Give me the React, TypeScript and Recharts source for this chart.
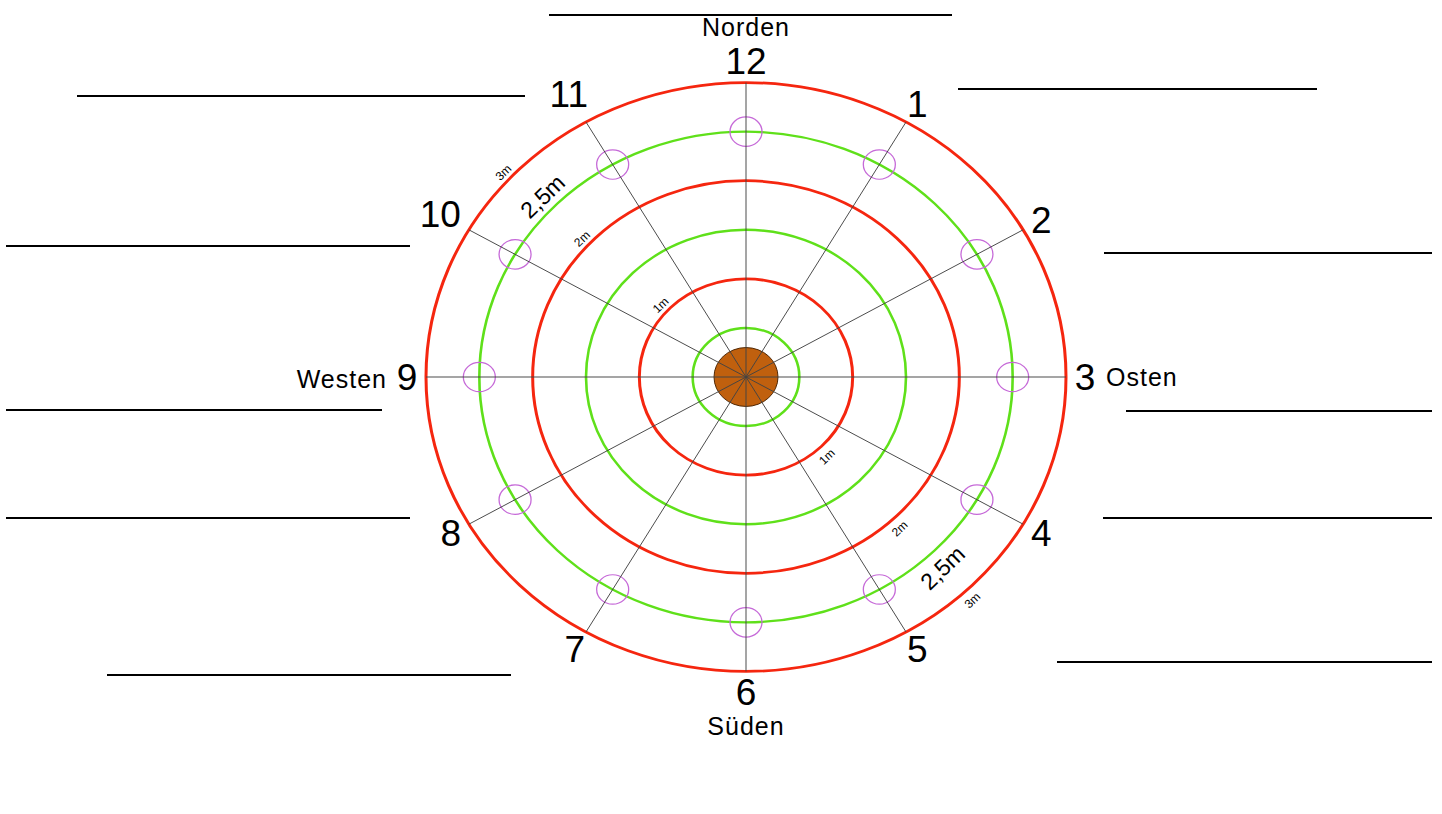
import React from 'react';
import { RadarChart, Radar, PolarGrid, PolarAngleAxis, PolarRadiusAxis } from 'recharts';

// ---------- data ----------
const hourLabels = ['12', '1', '2', '3', '4', '5', '6', '7', '8', '9', '10', '11'];
// distance (m) of the small marker circle on each spoke
const markerDistance = [2.5, 2.5, 2.5, 2.5, 2.5, 2.5, 2.5, 2.5, 2.5, 2.5, 2.5, 2.5];
// radius (m) of the trunk disc in the centre
const trunkRadius = [0.3, 0.3, 0.3, 0.3, 0.3, 0.3, 0.3, 0.3, 0.3, 0.3, 0.3, 0.3];
const redRingRadii = [1, 2, 3];
const greenRingRadii = [0.5, 1.5, 2.5];
const radiusDomain = [0, 3];
const ringLabelText: Record<string, string> = { '1': '1m', '2': '2m', '2.5': '2,5m', '3': '3m' };
const directionNames: Record<string, string> = { '12': 'Norden', '3': 'Osten', '6': 'Süden', '9': 'Westen' };

const chartData = hourLabels.map((hour, i) => ({
  hour,
  marker: markerDistance[i],
  trunk: trunkRadius[i],
}));

// ---------- layout ----------
const W = 1442;
const H = 814;
const OFF = 80; // extra room above/below the drawing
const CX = 746;
const CY = 377; // centre on the page
const CCY = CY + OFF; // centre inside the (taller) chart
const OUTER = 320;
const K = 0.92; // vertical squash of the drawing
const FONT = '"Liberation Sans", Arial, Helvetica, sans-serif';

const blankLines = [
  { x1: 549, x2: 952, y: 15 },
  { x1: 958, x2: 1317, y: 89 },
  { x1: 1104, x2: 1432, y: 253 },
  { x1: 1126, x2: 1432, y: 411 },
  { x1: 1103, x2: 1432, y: 518 },
  { x1: 1057, x2: 1432, y: 662 },
  { x1: 107, x2: 511, y: 675 },
  { x1: 6, x2: 410, y: 518 },
  { x1: 6, x2: 382, y: 410 },
  { x1: 6, x2: 410, y: 246 },
  { x1: 77, x2: 525, y: 96 },
];

const HourTick = (props: any) => {
  const { x, y, payload } = props;
  const label = String(payload.value);
  const dx = x - CX;
  const dy = y - CCY;
  const d = Math.hypot(dx, dy) || 1;
  const sin = Math.abs(dy) / d;
  const extra = (label === '10' || label === '11' ? 12 : 0) + 4 * sin - 3;
  const px = x + (dx / d) * extra;
  const py = y + (dy / d) * extra;
  const dir = directionNames[label];
  let dirEl = null;
  if (dir) {
    let tx = 0;
    let ty = 0;
    let anchor: any = 'middle';
    if (label === '12') ty = -34;
    if (label === '6') ty = 33;
    if (label === '9') { tx = -20; ty = 2; anchor = 'end'; }
    if (label === '3') { tx = 21; ty = 0; anchor = 'start'; }
    dirEl = (
      <text x={tx} y={ty} textAnchor={anchor} dominantBaseline="central" fontSize={25}
        letterSpacing={1} fill="#000" fontFamily={FONT}>{dir}</text>
    );
  }
  return (
    <g transform={`translate(${px} ${py}) scale(1 ${1 / K})`}>
      <text x={0} y={0} textAnchor="middle" dominantBaseline="central" fontSize={37}
        fill="#000" fontFamily={FONT}>{label}</text>
      {dirEl}
    </g>
  );
};

const RingTick = (props: any) => {
  const { x, y, payload, outward } = props;
  const v = payload.value;
  const text = ringLabelText[String(v)];
  if (!text) return <g />;
  const big = v === 2.5;
  const dx = x - CX;
  const dy = y - CCY;
  const d = Math.hypot(dx, dy) || 1;
  const off = (big ? 16 : 9) + (outward ? 0 : 3);
  const px = x + (dx / d) * off;
  const py = y + (dy / d) * off;
  return (
    <g transform={`translate(${px} ${py}) scale(1 ${1 / K}) rotate(-44)`}>
      <text x={0} y={0} textAnchor="middle" dominantBaseline="central" fontSize={big ? 23 : 12}
        fill="#000" fontFamily={FONT}>{text}</text>
    </g>
  );
};

const TrunkShape = (props: any) => {
  const pts = props.points || [];
  if (!pts.length) return <g />;
  const cx = pts.reduce((s: number, p: any) => s + p.x, 0) / pts.length;
  const cy = pts.reduce((s: number, p: any) => s + p.y, 0) / pts.length;
  const r = Math.hypot(pts[0].x - cx, pts[0].y - cy);
  return <circle cx={cx} cy={cy} r={r} fill="#c0600e" stroke="#4a2200" strokeWidth={1} />;
};

const MarkerDot = (props: any) => (
  <circle key={`m-${props.index}`} cx={props.cx} cy={props.cy} r={16} fill="none"
    stroke="#c66ad8" strokeWidth={1.3} />
);

export default function App() {
  return (
    <div style={{ position: 'absolute', left: 0, top: 0, width: W, height: H, background: '#fff', overflow: 'hidden' }}>
      {blankLines.map((l, i) => (
        <div key={i} style={{ position: 'absolute', left: l.x1, top: l.y - 1, width: l.x2 - l.x1, height: 2, background: '#000' }} />
      ))}
      <div style={{ position: 'absolute', left: 0, top: -OFF, width: W, height: H + 2 * OFF, transform: `scaleY(${K})`, transformOrigin: `${CX}px ${CCY}px` }}>
        <RadarChart width={W} height={H + 2 * OFF} data={chartData} cx={CX} cy={CCY} innerRadius={0} outerRadius={OUTER}
          startAngle={90} endAngle={-270} margin={{ top: 0, right: 0, bottom: 0, left: 0 }}>
          <PolarAngleAxis dataKey="hour" axisLine={false} tickLine={false} tickSize={22} tick={<HourTick />} />
          <PolarRadiusAxis radiusAxisId="red" angle={137.5} domain={radiusDomain} ticks={redRingRadii}
            axisLine={false} tick={<RingTick outward />} />
          <PolarRadiusAxis radiusAxisId="green" angle={136} domain={radiusDomain} ticks={greenRingRadii}
            axisLine={false} tick={<RingTick outward />} />
          <PolarRadiusAxis radiusAxisId="redB" angle={-47} domain={radiusDomain} ticks={redRingRadii}
            axisLine={false} tick={<RingTick outward={false} />} />
          <PolarRadiusAxis radiusAxisId="greenB" angle={-46.5} domain={radiusDomain} ticks={greenRingRadii}
            axisLine={false} tick={<RingTick outward={false} />} />
          <PolarGrid radiusAxisId="green" gridType="circle" radialLines={false} stroke="#5fe01a" strokeWidth={2.6} />
          <PolarGrid radiusAxisId="red" gridType="circle" radialLines={false} stroke="#f5260f" strokeWidth={3} />
          <Radar radiusAxisId="green" dataKey="marker" stroke="none" fill="none" fillOpacity={0} dot={false} isAnimationActive={false} />
          <Radar radiusAxisId="redB" dataKey="marker" stroke="none" fill="none" fillOpacity={0} dot={false} isAnimationActive={false} />
          <Radar radiusAxisId="greenB" dataKey="marker" stroke="none" fill="none" fillOpacity={0} dot={false} isAnimationActive={false} />
          <Radar radiusAxisId="red" dataKey="trunk" isAnimationActive={false} shape={TrunkShape} />
          <Radar radiusAxisId="red" dataKey="marker" stroke="none" fill="none" fillOpacity={0}
            dot={MarkerDot} isAnimationActive={false} />
          <PolarGrid radiusAxisId="red" polarRadius={[]} gridType="circle" stroke="#444" strokeWidth={1} zIndex={600} />
        </RadarChart>
      </div>
    </div>
  );
}
